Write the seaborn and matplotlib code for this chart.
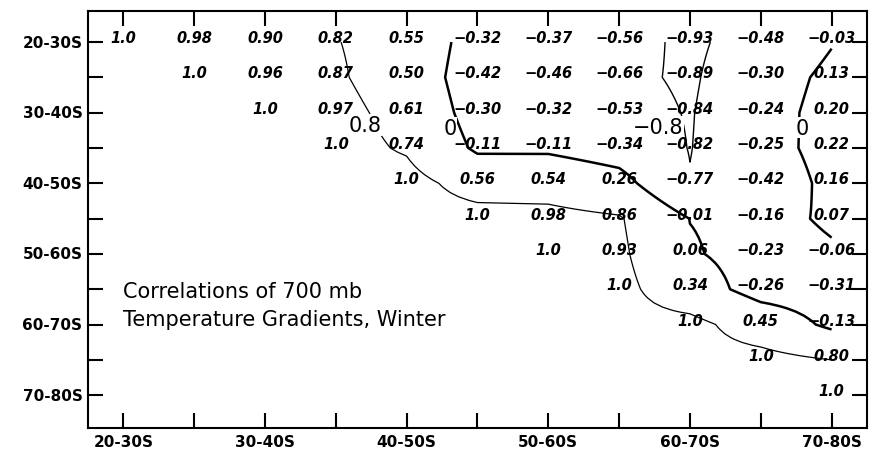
import numpy as np
import seaborn as sns
import matplotlib.pyplot as plt
from matplotlib.colors import ListedColormap

# latitude bands (5 degree steps), labels only on every other one
bands = ["20-30S", "25-35S", "30-40S", "35-45S", "40-50S", "45-55S",
         "50-60S", "55-65S", "60-70S", "65-75S", "70-80S"]
tick_labels = ["20-30S", "", "30-40S", "", "40-50S", "", "50-60S", "",
               "60-70S", "", "70-80S"]

# upper triangle of the correlation matrix, each row starts on the diagonal
row_0 = [1.0, 0.98, 0.90, 0.82, 0.55, -0.32, -0.37, -0.56, -0.93, -0.48, -0.03]
row_1 = [1.0, 0.96, 0.87, 0.50, -0.42, -0.46, -0.66, -0.89, -0.30, 0.13]
row_2 = [1.0, 0.97, 0.61, -0.30, -0.32, -0.53, -0.84, -0.24, 0.20]
row_3 = [1.0, 0.74, -0.11, -0.11, -0.34, -0.82, -0.25, 0.22]
row_4 = [1.0, 0.56, 0.54, 0.26, -0.77, -0.42, 0.16]
row_5 = [1.0, 0.98, 0.86, -0.01, -0.16, 0.07]
row_6 = [1.0, 0.93, 0.06, -0.23, -0.06]
row_7 = [1.0, 0.34, -0.26, -0.31]
row_8 = [1.0, 0.45, -0.13]
row_9 = [1.0, 0.80]
row_10 = [1.0]

contour_levels = [-0.8, 0.0, 0.8]
contour_fmt = {-0.8: "\u22120.8", 0.0: "0", 0.8: "0.8"}

rows = [row_0, row_1, row_2, row_3, row_4, row_5, row_6, row_7, row_8, row_9, row_10]
n = len(bands)
corr = np.full((n, n), np.nan)
for i, r in enumerate(rows):
    corr[i, i:] = r


def fmt_val(v):
    if np.isnan(v):
        return ""
    s = "1.0" if v == 1.0 else f"{v:.2f}"
    return s.replace("-", "\u2212")


annot = np.vectorize(fmt_val, otypes=[object])(corr)

fig = plt.figure(figsize=(8.77, 4.52), dpi=100)
ax = fig.add_axes([0.1003, 0.0509, 0.8883, 0.9226])

# numbers sit on the tick line (baseline), like the hand-lettered original
sns.heatmap(corr, mask=np.isnan(corr), annot=annot, fmt="",
            cmap=ListedColormap(["white"]), cbar=False, ax=ax,
            annot_kws={"fontsize": 10.5, "fontstyle": "italic",
                       "fontweight": "bold", "color": "black",
                       "va": "baseline"})

# contour field: lower triangle set to the diagonal value so lines stay above it
field = np.where(np.isnan(corr), 1.0, corr)
xs = np.arange(n) + 0.5
# bilinear upsampling to soften the hand-drawn looking isolines
fine = np.linspace(xs[0], xs[-1], 8 * (n - 1) + 1)
tmp = np.array([np.interp(fine, xs, row) for row in field])
fine_field = np.array([np.interp(fine, xs, col) for col in tmp.T]).T
cs = ax.contour(fine, fine, fine_field, levels=contour_levels, colors="black",
                linewidths=[1.0, 1.8, 0.9], linestyles="solid")

# isoline labels, placed between the 2nd and 3rd labelled rows as in the original
label_spots = [(3.91, 2.85), (5.11, 2.93), (8.05, 2.90), (10.08, 2.93)]
lbls = ax.clabel(cs, fmt=contour_fmt, fontsize=15, inline=False,
                 manual=label_spots)
for t, spot in zip(lbls, label_spots):
    t.set_rotation(0)
    t.set_position(spot)
    t.set_bbox(dict(facecolor="white", edgecolor="none", pad=0.5))
    t.set_zorder(5)

ax.set_xlim(0, n)
ax.set_ylim(11.43, -0.38)

ax.set_xticks(xs)
ax.set_xticklabels(tick_labels, rotation=0, fontsize=11, fontweight="bold")
ax.set_yticks(xs)
ax.set_yticklabels(tick_labels, rotation=0, fontsize=11, fontweight="bold")
ax.tick_params(axis="both", direction="in", length=11, width=1.5,
               top=True, right=True, bottom=True, left=True, pad=4)
ax.tick_params(axis="x", pad=4)
for sp in ax.spines.values():
    sp.set_visible(True)
    sp.set_linewidth(1.5)

ax.text(0.045, 0.329, "Correlations of 700 mb", transform=ax.transAxes,
        fontsize=15, va="center", ha="left")
ax.text(0.045, 0.261, "Temperature Gradients, Winter", transform=ax.transAxes,
        fontsize=15, va="center", ha="left")

fig.savefig("out.png", dpi=100)
